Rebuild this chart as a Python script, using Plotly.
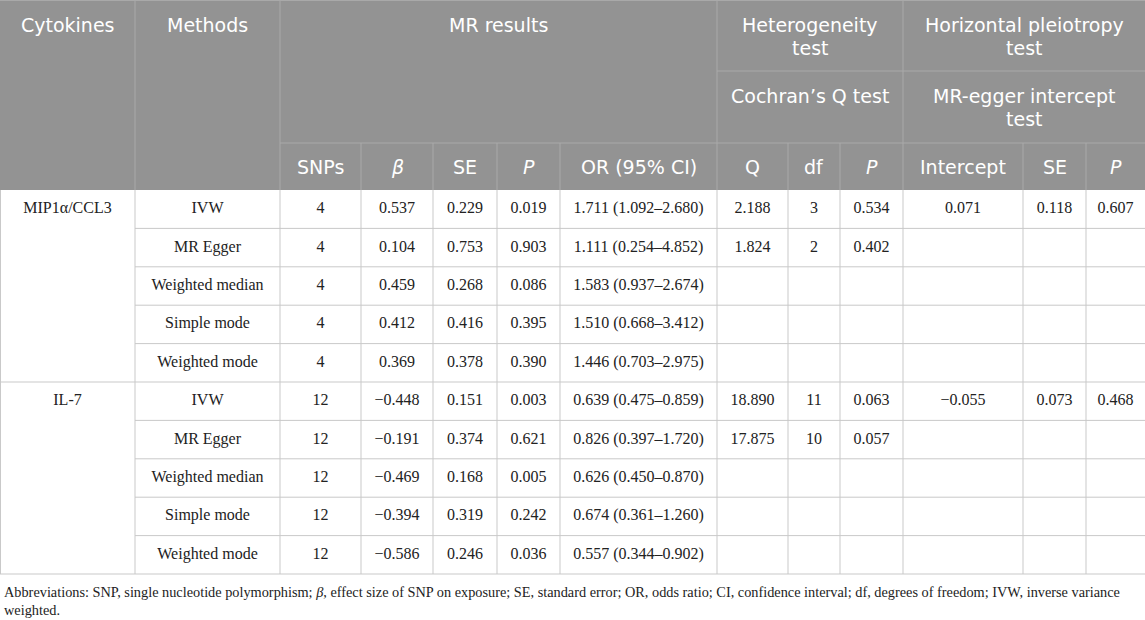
import plotly.graph_objects as go

# table values
cytokines = ["MIP1α/CCL3", "IL-7"]
methods = ["IVW", "MR Egger", "Weighted median", "Simple mode", "Weighted mode"]
snps = [4, 4, 4, 4, 4, 12, 12, 12, 12, 12]
beta = [0.537, 0.104, 0.459, 0.412, 0.369, -0.448, -0.191, -0.469, -0.394, -0.586]
se = [0.229, 0.753, 0.268, 0.416, 0.378, 0.151, 0.374, 0.168, 0.319, 0.246]
pval = [0.019, 0.903, 0.086, 0.395, 0.390, 0.003, 0.621, 0.005, 0.242, 0.036]
odds = [1.711, 1.111, 1.583, 1.510, 1.446, 0.639, 0.826, 0.626, 0.674, 0.557]
ci_low = [1.092, 0.254, 0.937, 0.668, 0.703, 0.475, 0.397, 0.450, 0.361, 0.344]
ci_high = [2.680, 4.852, 2.674, 3.412, 2.975, 0.859, 1.720, 0.870, 1.260, 0.902]
cochran_q = [2.188, 1.824, None, None, None, 18.890, 17.875, None, None, None]
cochran_df = [3, 2, None, None, None, 11, 10, None, None, None]
cochran_p = [0.534, 0.402, None, None, None, 0.063, 0.057, None, None, None]
egger_int = [0.071, None, None, None, None, -0.055, None, None, None, None]
egger_se = [0.118, None, None, None, None, 0.073, None, None, None, None]
egger_p = [0.607, None, None, None, None, 0.468, None, None, None, None]

sub_headers = ["SNPs", "<i>β</i>", "SE", "<i>P</i>", "OR (95% CI)",
               "Q", "df", "<i>P</i>", "Intercept", "SE", "<i>P</i>"]
footnote = ["Abbreviations: SNP, single nucleotide polymorphism; <i>β</i>, effect size of SNP on exposure; "
            "SE, standard error; OR, odds ratio; CI, confidence interval; df, degrees of freedom; IVW, inverse variance",
            "weighted."]

# layout of the grid (pixels)
W, H = 1145, 620
edges = [0, 135, 280, 361, 433, 497, 560, 717, 788, 840, 903, 1023, 1086, 1145]
hdr = [0, 71, 143, 190]
row_h = 38.4
n_rows = len(snps)
rows = [hdr[-1] + i * row_h for i in range(n_rows + 1)]
block = len(methods)

HDR_BG = "#939393"
HDR_LINE = "#a9a9a9"
GRID = "#c9c9c9"
TXT = "#222222"


def fmt(v, nd=3):
    if v is None:
        return ""
    if isinstance(v, int):
        return str(v)
    return f"{v:.{nd}f}".replace("-", "−")


def mid(a, b):
    return (a + b) / 2


fig = go.Figure()
shapes = []
ann = []

# header background
shapes.append(dict(type="rect", x0=0, x1=W, y0=hdr[0], y1=hdr[-1], fillcolor=HDR_BG,
                   line=dict(width=0), layer="below"))


def hline(x0, x1, y, color):
    shapes.append(dict(type="line", x0=x0, x1=x1, y0=y, y1=y, line=dict(color=color, width=1)))


def vline(x, y0, y1, color):
    shapes.append(dict(type="line", x0=x, x1=x, y0=y0, y1=y1, line=dict(color=color, width=1)))


# header lines
for x in [edges[1], edges[2], edges[7], edges[10]]:
    vline(x, hdr[0], hdr[-1], HDR_LINE)
for i in [3, 4, 5, 6, 8, 9, 11, 12]:
    vline(edges[i], hdr[2], hdr[-1], HDR_LINE)
hline(edges[2], W, hdr[2], HDR_LINE)
hline(edges[7], W, hdr[1], HDR_LINE)
hline(0, W, 0.5, HDR_LINE)

# body lines
vline(0.5, rows[0], rows[-1], GRID)
for x in edges[1:-1]:
    vline(x, rows[0], rows[-1], GRID)
for r in range(1, n_rows + 1):
    x0 = 0 if r % block == 0 else edges[1]
    hline(x0, W, rows[r], GRID)

# header text
hfont = dict(family="DejaVu Sans", size=19, color="white")


def htext(txt, x, y):
    ann.append(dict(text=txt, x=x, y=y, xref="x", yref="y", showarrow=False,
                    font=hfont, xanchor="center", yanchor="middle"))


htext("Cytokines", mid(edges[0], edges[1]), 25)
htext("Methods", mid(edges[1], edges[2]), 25)
htext("MR results", mid(edges[2], edges[7]), 25)
htext("Heterogeneity", mid(edges[7], edges[10]), 25)
htext("test", mid(edges[7], edges[10]), 48)
htext("Horizontal pleiotropy", mid(edges[10], edges[13]), 25)
htext("test", mid(edges[10], edges[13]), 48)
htext("Cochran’s Q test", mid(edges[7], edges[10]), 96)
htext("MR-egger intercept", mid(edges[10], edges[13]), 96)
htext("test", mid(edges[10], edges[13]), 119)
for i, s in enumerate(sub_headers):
    htext(s, mid(edges[i + 2], edges[i + 3]), 167)

# body text
cols = [
    [cytokines[r // block] if r % block == 0 else "" for r in range(n_rows)],
    [methods[r % block] for r in range(n_rows)],
    [fmt(v) for v in snps],
    [fmt(v) for v in beta],
    [fmt(v) for v in se],
    [fmt(v) for v in pval],
    [f"{fmt(o)} ({fmt(a)}–{fmt(b)})" for o, a, b in zip(odds, ci_low, ci_high)],
    [fmt(v) for v in cochran_q],
    [fmt(v) for v in cochran_df],
    [fmt(v) for v in cochran_p],
    [fmt(v) for v in egger_int],
    [fmt(v) for v in egger_se],
    [fmt(v) for v in egger_p],
]
xs, ys, ts = [], [], []
for c, vals in enumerate(cols):
    for r, t in enumerate(vals):
        if t:
            xs.append(mid(edges[c], edges[c + 1]))
            ys.append(mid(rows[r], rows[r + 1]))
            ts.append(t)

fig.add_trace(go.Scatter(x=xs, y=ys, text=ts, mode="text", hoverinfo="skip",
                         textposition="middle center",
                         textfont=dict(family="Liberation Serif", size=16, color=TXT),
                         showlegend=False))

# footnote
for i, line in enumerate(footnote):
    ann.append(dict(text=line, x=2, y=592 + i * 17.5, xref="x", yref="y", showarrow=False,
                    xanchor="left", yanchor="middle", align="left",
                    font=dict(family="Liberation Serif", size=14.3, color=TXT)))

fig.update_layout(
    width=W, height=H,
    margin=dict(l=0, r=0, t=0, b=0),
    paper_bgcolor="white", plot_bgcolor="white",
    xaxis=dict(range=[0, W], visible=False, fixedrange=True),
    yaxis=dict(range=[H, 0], visible=False, fixedrange=True),
    shapes=shapes, annotations=ann,
)

fig.write_html("out.html", config=dict(displayModeBar=False),
               post_script="document.body.style.margin='0';document.body.style.overflow='hidden';")
